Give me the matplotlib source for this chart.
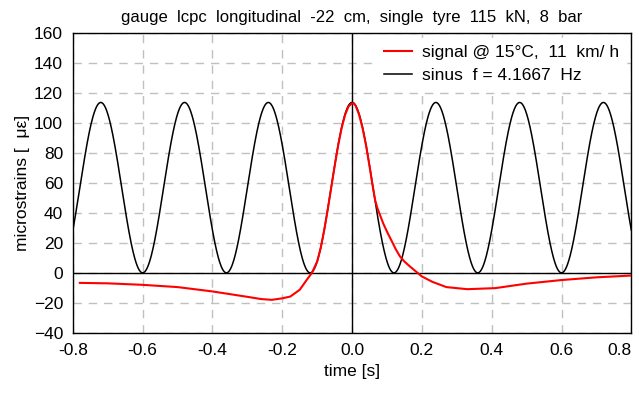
import numpy as np
import matplotlib
matplotlib.use("Agg")
import matplotlib.pyplot as plt

plt.rcParams['font.family'] = ['Liberation Sans', 'DejaVu Sans']

sig_t = [-0.78, -0.70, -0.60, -0.50, -0.40, -0.30, -0.26, -0.23, -0.20, -0.177,
         -0.15, -0.13, -0.115, -0.10, -0.09, -0.08, -0.07, -0.06, -0.05, -0.04,
         -0.03, -0.02, -0.01, 0.0, 0.005, 0.01, 0.02, 0.03, 0.04, 0.05, 0.06,
         0.066, 0.072, 0.08, 0.09, 0.102, 0.114, 0.125, 0.137, 0.15, 0.166, 0.185,
         0.20, 0.23, 0.27, 0.33, 0.41, 0.50, 0.60, 0.70, 0.80]
sig_y = [-6.7, -7.0, -8.0, -9.5, -12.4, -16.0, -17.5, -18.0, -17.0, -15.8,
         -11.3, -4.7, 0.0, 7.6, 16.5, 28.3, 41.9, 56.5, 71.1, 84.8,
         96.5, 105.4, 111.1, 113.0, 113.0, 111.5, 105.5, 96.5, 85.0, 71.0, 56.5,
         48.5, 43.5, 38.5, 32.5, 26.5, 21.0, 15.8, 11.0, 7.5, 4.2, 0.5,
         -2.4, -6.0, -9.5, -10.9, -10.2, -7.2, -4.8, -3.0, -1.8]

# fitted sinus
freq = 4.1667
amp = 56.8
t = np.linspace(-0.8, 0.8, 1601)
sinus = amp * (1 + np.cos(2 * np.pi * freq * t))

fig = plt.figure(figsize=(6.39, 4.01), dpi=100)
ax = fig.add_axes([0.114, 0.170, 0.874, 0.748])

ax.plot(t, sinus, color='black', lw=1.1, label='sinus  f = 4.1667  Hz', zorder=3)
ax.plot(sig_t, sig_y, color='red', lw=1.5, label='signal @ 15°C,  11  km/ h', zorder=4)

ax.axhline(0, color='black', lw=1.0, zorder=2)
ax.axvline(0, color='black', lw=1.0, zorder=2)

xt = np.round(np.arange(-0.8, 0.81, 0.2), 1)
ax.set_xlim(-0.8, 0.8)
ax.set_ylim(-40, 160)
ax.set_xticks(xt)
ax.set_xticklabels(['%.1f' % (v + 0.0) for v in xt])
ax.get_xticklabels()[-1].set_horizontalalignment('right')
ax.set_yticks(np.arange(-40, 161, 20))
ax.grid(True, color='#c0c0c0', ls=(0, (6, 5)), lw=1.0)
ax.tick_params(length=0, labelsize=12.5, pad=7)
for s in ax.spines.values():
    s.set_color('black')
    s.set_linewidth(1.0)

ax.set_xlabel('time [s]', fontsize=12.5, labelpad=5)
ax.set_ylabel('microstrains [  με]', fontsize=12.5, labelpad=3)
ax.set_title('gauge  lcpc  longitudinal  -22  cm,  single  tyre  115  kN,  8  bar',
             fontsize=12, pad=8)

h, l = ax.get_legend_handles_labels()
leg = ax.legend(h[::-1], l[::-1], loc='upper right', fontsize=12.5, frameon=True,
                fancybox=False, edgecolor='white', framealpha=1,
                handlelength=1.6, handletextpad=0.6, borderaxespad=0.3,
                labelspacing=0.45)
leg.set_zorder(5)

fig.savefig('out.png', dpi=100)
